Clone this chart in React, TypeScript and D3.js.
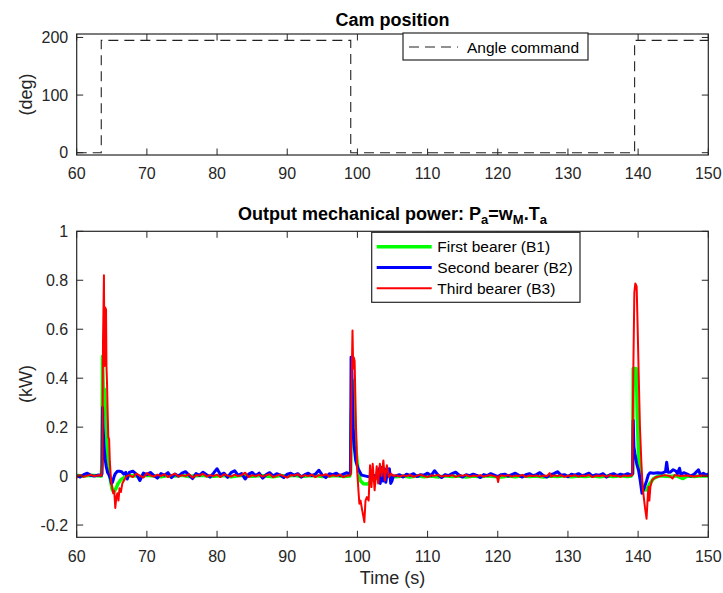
import React from "react";
import * as d3 from "d3";

type Pt = [number, number];

const timeTicks = [60, 70, 80, 90, 100, 110, 120, 130, 140, 150];
const angleTicks = [0, 100, 200];
const powerTicks = [-0.2, 0, 0.2, 0.4, 0.6, 0.8, 1];
const powerTickLabels = ["-0.2", "0", "0.2", "0.4", "0.6", "0.8", "1"];

const angleCommand: Pt[] = [
  [60, 0], [63.5, 0], [63.5, 195], [99.05, 195], [99.05, 0], [139.5, 0], [139.5, 195], [150, 195],
];

const greenB1: Pt[] = [
  [60, 0.002], [61, 0.0], [62, 0.003], [63, 0.001], [63.5, 0.0],
  [63.6, 0.05], [63.68, 0.49], [63.78, 0.36], [63.95, 0.355], [64.05, 0.3], [64.17, 0.24], [64.3, 0.14],
  [64.4, 0.07], [64.55, 0.02], [64.8, -0.015], [65.05, -0.055], [65.3, -0.065], [65.6, -0.05], [65.9, -0.03],
  [66.3, -0.015], [66.8, -0.005], [67.3, 0.0],
  [68, 0.002], [69, -0.002], [70, 0.003], [71, 0.0], [72, -0.003], [73, 0.002], [74, 0.0], [75, 0.003],
  [76, -0.002], [77, 0.001], [78, 0.003], [79, -0.002], [80, 0.0], [81, 0.002], [82, -0.003], [83, 0.001],
  [84, 0.003], [85, -0.001], [86, 0.002], [87, 0.0], [88, -0.003], [89, 0.002], [90, 0.0], [91, 0.003],
  [92, -0.002], [93, 0.001], [94, 0.002], [95, -0.002], [96, 0.0], [97, 0.002], [98, -0.002], [98.9, 0.0],
  [99.02, 0.01], [99.15, 0.25], [99.35, 0.39], [99.45, 0.35], [99.6, 0.227], [99.8, 0.105], [100.1, 0.024],
  [100.4, -0.018], [100.85, -0.031], [101.5, -0.032], [102.0, -0.018], [102.7, -0.008], [103.5, -0.005],
  [104.5, 0.0], [105.5, -0.003], [106.5, 0.0], [107.5, -0.004], [108.5, 0.001], [109.5, -0.003], [110.5, 0.0],
  [111.5, -0.004], [112.5, 0.001], [113.5, -0.002], [114.5, 0.0], [115.5, -0.004], [116.5, 0.0], [117.5, -0.003],
  [118.5, 0.001], [119.5, -0.002], [120.5, -0.004], [121.5, 0.0], [122.5, -0.003], [123.5, 0.001], [124.5, -0.002],
  [125.5, 0.0], [126.5, -0.004], [127.5, 0.0], [128.5, -0.002], [129.5, 0.001], [130.5, -0.003], [131.5, 0.0],
  [132.5, -0.002], [133.5, 0.001], [134.5, -0.003], [135.5, 0.0], [136.5, -0.002], [137.5, 0.001], [138.5, -0.002],
  [139.0, 0.0], [139.22, 0.01], [139.3, 0.44], [139.7, 0.44], [139.8, 0.36], [139.93, 0.2], [140.05, 0.09],
  [140.25, 0.01], [140.6, -0.044], [140.9, -0.055], [141.2, -0.057], [141.7, -0.03], [142.2, -0.01], [142.9, 0.0],
  [143.5, 0.0], [144.5, -0.002], [145.5, 0.001], [146.4, -0.01], [147, 0.0], [148, -0.002], [149, 0.001], [150, 0.0],
];

const blueB2: Pt[] = [
  [60, 0.002], [60.5, -0.004], [61, 0.006], [61.5, 0.012], [62, 0.003], [62.5, 0.0], [63, 0.004], [63.5, 0.003],
  [63.6, 0.01], [63.68, 0.28], [63.76, 0.2], [63.9, 0.12], [64.05, 0.07], [64.2, 0.04], [64.4, 0.015], [64.6, 0.005],
  [64.8, -0.01], [64.95, -0.03], [65.1, -0.025], [65.3, -0.005], [65.5, 0.01], [65.8, 0.02], [66.1, 0.02],
  [66.4, 0.018], [66.7, 0.008], [67.0, 0.015], [67.2, -0.012],
  [67.5, 0.015], [68, 0.02], [68.5, 0.008], [69, -0.018], [69.5, 0.012], [70, 0.006], [70.5, 0.015], [71, 0.002],
  [71.5, -0.008], [72, 0.01], [72.5, 0.004], [73, 0.014], [73.5, -0.006], [74, 0.008], [74.5, 0.0], [75, 0.012],
  [75.5, 0.018], [76, 0.004], [76.5, -0.01], [77, 0.01], [77.5, 0.003], [78, 0.016], [78.5, 0.006], [79, -0.004],
  [79.5, 0.012], [80, 0.03], [80.5, 0.005], [81, 0.012], [81.5, -0.005], [82, 0.014], [82.5, 0.022], [83, 0.003],
  [83.5, 0.01], [84, -0.012], [84.5, 0.008], [85, 0.015], [85.5, 0.002], [86, 0.012], [86.5, -0.008], [87, 0.006],
  [87.5, 0.014], [88, 0.0], [88.5, 0.01], [89, 0.004], [89.5, -0.006], [90, 0.008], [90.5, 0.012], [91, 0.003],
  [91.5, 0.01], [92, -0.004], [92.5, 0.006], [93, 0.012], [93.5, 0.002], [94, 0.008], [94.5, 0.024], [95, 0.004],
  [95.5, -0.006], [96, 0.01], [96.5, 0.006], [97, 0.012], [97.5, 0.002], [98, 0.008], [98.5, 0.014], [98.9, 0.006],
  [99.02, 0.02], [99.1, 0.486], [99.2, 0.45], [99.28, 0.336], [99.38, 0.2], [99.55, 0.118], [99.75, 0.064],
  [100.1, 0.03], [100.6, 0.004], [101.2, 0.0], [101.8, -0.004], [102.4, 0.002], [102.9, -0.006], [103.1, 0.03],
  [103.25, -0.03], [103.45, 0.035], [103.65, -0.02], [103.85, 0.03], [104.05, -0.025], [104.3, 0.025],
  [104.55, 0.03], [104.75, -0.03], [104.95, -0.018], [105.1, 0.0],
  [105.5, 0.002], [106, 0.006], [106.5, -0.004], [107, 0.008], [107.5, 0.003], [108, 0.01], [108.5, -0.002],
  [109, 0.006], [109.5, 0.004], [110, 0.012], [110.5, 0.002], [111, 0.022], [111.5, 0.004], [112, -0.006],
  [112.5, 0.006], [113, 0.002], [113.5, 0.01], [114, 0.016], [114.5, 0.004], [115, -0.004], [115.5, 0.006],
  [116, 0.002], [116.5, 0.008], [117, 0.003], [117.5, -0.006], [118, 0.006], [118.5, 0.002], [119, 0.01],
  [119.5, 0.004], [120, -0.002], [120.5, 0.006], [121, 0.008], [121.5, 0.0], [122, 0.006], [122.5, 0.012],
  [123, 0.003], [123.5, -0.004], [124, 0.006], [124.5, 0.01], [125, 0.002], [125.5, 0.006], [126, 0.014],
  [126.5, 0.002], [127, -0.004], [127.5, 0.006], [128, 0.01], [128.5, 0.018], [129, 0.004], [129.5, 0.006],
  [130, -0.003], [130.5, 0.008], [131, 0.004], [131.5, 0.01], [132, 0.002], [132.5, 0.006], [133, 0.012],
  [133.5, 0.0], [134, 0.006], [134.5, 0.004], [135, 0.01], [135.5, -0.004], [136, 0.006], [136.5, 0.01],
  [137, 0.002], [137.5, 0.008], [138, 0.004], [138.5, 0.01], [139, 0.004],
  [139.22, 0.01], [139.3, 0.227], [139.4, 0.12], [139.55, 0.09], [139.8, 0.05], [140.07, 0.023], [140.3, -0.018],
  [140.55, -0.07], [140.7, -0.06], [140.9, -0.045], [141.2, -0.02], [141.45, 0.005], [141.7, 0.014], [142.2, 0.012],
  [142.8, 0.014], [143.4, 0.012], [143.9, 0.018], [144.07, 0.057], [144.25, 0.016], [144.6, 0.016], [145.0, 0.026],
  [145.4, 0.02], [145.6, 0.01], [145.9, 0.032], [146.1, 0.005], [146.5, 0.014], [147.0, 0.008], [147.5, 0.0],
  [148.0, 0.008], [148.6, 0.026], [148.9, 0.004], [149.3, 0.012], [149.7, 0.004], [150, 0.01],
];

const redB3: Pt[] = [
  [60, -0.008], [60.2, 0.002], [60.5, 0.004], [61, -0.003], [61.5, 0.002], [62, 0.005], [62.5, 0.0], [63, 0.003],
  [63.55, 0.002], [63.65, 0.05], [63.75, 0.55], [63.88, 0.82], [63.96, 0.45], [64.04, 0.69], [64.18, 0.68],
  [64.24, 0.45], [64.32, 0.38], [64.42, 0.25], [64.5, 0.16], [64.62, 0.15], [64.72, 0.06], [64.9, -0.02],
  [65.05, -0.045], [65.2, -0.07], [65.35, -0.06], [65.5, -0.13], [65.65, -0.085], [65.8, -0.07], [65.95, -0.1],
  [66.1, -0.05], [66.3, -0.065], [66.5, -0.03], [66.8, -0.015], [67.1, 0.0],
  [67.5, 0.004], [68, -0.004], [68.5, 0.01], [69, 0.002], [69.5, -0.006], [70, 0.012], [70.5, 0.003], [71, -0.002],
  [71.5, 0.006], [72, 0.0], [72.5, 0.008], [73, -0.004], [73.5, 0.004], [74, 0.01], [74.5, -0.002], [75, 0.004],
  [75.5, 0.0], [76, 0.008], [76.5, -0.006], [77, 0.004], [77.5, 0.002], [78, 0.01], [78.5, -0.002], [79, 0.004],
  [79.5, 0.0], [80, 0.006], [80.5, -0.004], [81, 0.008], [81.5, 0.002], [82, -0.002], [82.5, 0.006], [83, 0.0],
  [83.5, 0.004], [84, 0.014], [84.5, -0.004], [85, 0.004], [85.5, 0.0], [86, 0.006], [86.5, -0.002], [87, 0.004],
  [87.5, 0.008], [88, -0.004], [88.5, 0.002], [89, 0.006], [89.5, 0.0], [90, -0.006], [90.5, 0.004], [91, 0.002],
  [91.5, 0.008], [92, -0.002], [92.5, 0.004], [93, 0.0], [93.5, 0.006], [94, -0.004], [94.5, 0.004], [95, 0.002],
  [95.5, 0.008], [96, -0.002], [96.5, 0.004], [97, 0.0], [97.5, 0.006], [98, -0.004], [98.5, 0.002], [98.9, 0.002],
  [99.04, 0.01], [99.18, 0.39], [99.3, 0.595], [99.4, 0.44], [99.47, 0.486], [99.6, 0.47], [99.8, 0.2],
  [99.99, 0.01], [100.15, -0.06], [100.28, -0.113], [100.45, -0.1], [100.62, -0.13], [100.99, -0.188],
  [101.15, -0.1], [101.35, -0.086], [101.6, -0.1], [101.8, 0.044], [102.0, -0.045], [102.18, 0.05],
  [102.45, -0.058], [102.75, 0.04], [102.95, -0.03], [103.2, 0.05], [103.45, 0.0], [103.7, 0.064],
  [103.9, -0.018], [104.2, 0.044], [104.5, -0.004], [104.8, 0.01], [105.2, 0.0],
  [105.5, 0.004], [106, -0.002], [106.5, 0.003], [107, 0.0], [107.5, 0.005], [108, -0.003], [108.5, 0.002],
  [109, 0.006], [109.5, 0.0], [110, -0.004], [110.5, 0.003], [111, 0.001], [111.5, 0.005], [112, -0.002],
  [112.5, 0.002], [113, 0.0], [113.5, 0.004], [114, -0.003], [114.5, 0.003], [115, 0.001], [115.5, 0.005],
  [116, -0.002], [116.5, 0.002], [117, 0.0], [117.5, 0.004], [118, -0.002], [118.5, 0.002], [119, 0.004],
  [119.5, 0.0], [119.9, -0.003], [120.05, -0.024], [120.2, 0.0], [120.5, 0.003], [121, 0.0], [121.5, 0.004],
  [122, -0.002], [122.5, 0.002], [123, 0.0], [123.5, 0.005], [124, -0.003], [124.5, 0.002], [125, 0.0],
  [125.5, 0.003], [126, -0.002], [126.5, 0.002], [127, 0.0], [127.4, 0.012], [127.6, -0.002], [128, 0.003],
  [128.5, 0.0], [129, 0.004], [129.5, -0.003], [130, 0.002], [130.5, 0.0], [131, 0.004], [131.5, -0.002],
  [132, 0.002], [132.5, 0.0], [133, 0.005], [133.5, -0.004], [134, 0.002], [134.5, 0.0], [135, 0.003],
  [135.5, -0.002], [136, 0.004], [136.5, 0.0], [137, 0.002], [137.5, -0.003], [138, 0.003], [138.5, 0.0],
  [139.0, 0.002], [139.17, 0.005], [139.3, 0.4], [139.46, 0.75], [139.6, 0.787], [139.79, 0.775], [139.93, 0.61],
  [140.07, 0.43], [140.26, 0.2], [140.45, 0.064], [140.64, -0.044], [140.97, -0.127], [141.2, -0.174],
  [141.4, -0.07], [141.5, -0.044], [141.6, -0.1], [141.75, -0.044], [142.0, -0.016], [142.5, -0.005],
  [143.2, 0.0], [143.8, 0.004], [144.5, 0.0], [144.9, -0.01], [145.2, 0.004], [146, 0.0], [147, 0.002],
  [148, -0.002], [149, 0.002], [150, 0.0],
];

const seriesNames = ["First bearer (B1)", "Second bearer (B2)", "Third bearer (B3)"];
const seriesColors = ["#00ff00", "#0000ff", "#ff0000"];
const seriesWidths = [3.5, 3, 2];

const FONT = "'Liberation Sans', Arial, Helvetica, sans-serif";
const AX = "#262626";

export default function App() {
  const x = d3.scaleLinear().domain([60, 150]).range([76.7, 708.3]);
  const yTop = d3.scaleLinear().domain([-4, 206]).range([155, 34]);
  const yBot = d3.scaleLinear().domain([-0.25, 1]).range([537.3, 231.3]);

  const lineTop = d3.line<Pt>().x((d) => x(d[0])).y((d) => yTop(d[1]));
  const lineBot = d3.line<Pt>().x((d) => x(d[0])).y((d) => yBot(d[1]));

  const [xl, xr] = x.range();
  const tickLen = 6.5;

  const axesBox = (yS: d3.ScaleLinear<number, number>, yTicks: number[], labels: string[]) => {
    const [yb, yt] = yS.range();
    return (
      <g>
        {timeTicks.map((t) => (
          <g key={"xt" + t}>
            <line x1={x(t)} x2={x(t)} y1={yb} y2={yb - tickLen} stroke={AX} strokeWidth={1} />
            <line x1={x(t)} x2={x(t)} y1={yt} y2={yt + tickLen} stroke={AX} strokeWidth={1} />
            <text x={x(t)} y={yb + 24.4} textAnchor="middle" fontSize={16} fill={AX} fontFamily={FONT}>
              {String(t)}
            </text>
          </g>
        ))}
        {yTicks.map((v, i) => (
          <g key={"yt" + i}>
            <line x1={xl} x2={xl + tickLen} y1={yS(v)} y2={yS(v)} stroke={AX} strokeWidth={1} />
            <line x1={xr} x2={xr - tickLen} y1={yS(v)} y2={yS(v)} stroke={AX} strokeWidth={1} />
            <text x={xl - 8.5} y={yS(v) + 5.7} textAnchor="end" fontSize={16} fill={AX} fontFamily={FONT}>
              {labels[i]}
            </text>
          </g>
        ))}
        <rect x={xl} y={yt} width={xr - xl} height={yb - yt} fill="none" stroke={AX} strokeWidth={1.2} />
      </g>
    );
  };

  const series = [greenB1, blueB2, redB3];

  return (
    <svg
      width={723}
      height={593}
      style={{ position: "absolute", left: 0, top: 0, background: "#fff" }}
      fontFamily={FONT}
    >
      <rect x={0} y={0} width={723} height={593} fill="#fff" />
      <defs>
        <clipPath id="clipTop">
          <rect x={xl} y={34} width={xr - xl} height={121} />
        </clipPath>
        <clipPath id="clipBot">
          <rect x={xl} y={231.3} width={xr - xl} height={306} />
        </clipPath>
      </defs>

      {/* Top panel */}
      <text x={392.5} y={26} textAnchor="middle" fontSize={18} fontWeight="bold" fill="#000">
        Cam position
      </text>
      <g clipPath="url(#clipTop)">
        <path d={lineTop(angleCommand) || ""} fill="none" stroke="#222" strokeWidth={1.1} strokeDasharray="10 6" />
      </g>
      {axesBox(yTop, angleTicks, angleTicks.map(String))}
      <text transform="translate(32,94.5) rotate(-90)" textAnchor="middle" fontSize={18} fill={AX}>
        (deg)
      </text>
      <g>
        <rect x={403} y={33} width={185} height={27} fill="#fff" stroke={AX} strokeWidth={1.2} />
        <line x1={409} x2={458} y1={47} y2={47} stroke="#222" strokeWidth={1.1} strokeDasharray="10 6" />
        <text x={467} y={52.5} fontSize={15.5} fill="#000">
          Angle command
        </text>
      </g>

      {/* Bottom panel */}
      <text x={392.5} y={220} textAnchor="middle" fontSize={18} fontWeight="bold" fill="#000">
        Output mechanical power: P
        <tspan fontSize={13} dy={4}>a</tspan>
        <tspan dy={-4}>=w</tspan>
        <tspan fontSize={13} dy={4}>M</tspan>
        <tspan dy={-4}>.T</tspan>
        <tspan fontSize={13} dy={4}>a</tspan>
      </text>
      <g clipPath="url(#clipBot)">
        {series.map((s, i) => (
          <path
            key={i}
            d={lineBot(s) || ""}
            fill="none"
            stroke={seriesColors[i]}
            strokeWidth={seriesWidths[i]}
            strokeLinejoin="round"
          />
        ))}
      </g>
      {axesBox(yBot, powerTicks, powerTickLabels)}
      <text transform="translate(32,384) rotate(-90)" textAnchor="middle" fontSize={18} fill={AX}>
        (kW)
      </text>
      <text x={392.5} y={584} textAnchor="middle" fontSize={18} fill={AX}>
        Time (s)
      </text>
      <g>
        <rect x={371.7} y={232.3} width={208.3} height={70} fill="#fff" stroke={AX} strokeWidth={1.2} />
        {seriesNames.map((n, i) => {
          const yy = 246.7 + i * 20.8;
          return (
            <g key={n}>
              <line x1={376.7} x2={431.7} y1={yy} y2={yy} stroke={seriesColors[i]} strokeWidth={seriesWidths[i]} />
              <text x={437.3} y={yy + 5.5} fontSize={15.5} fill="#000">
                {n}
              </text>
            </g>
          );
        })}
      </g>
    </svg>
  );
}
